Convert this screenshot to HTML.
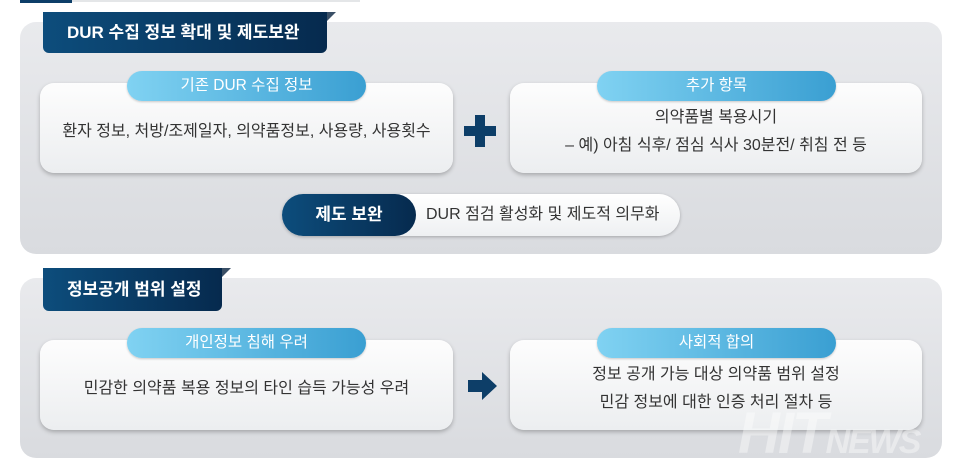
<!DOCTYPE html>
<html><head><meta charset="utf-8"><style>
body{margin:0;width:960px;height:476px;background:#fff;position:relative;overflow:hidden;font-family:"Liberation Sans","Noto Sans CJK KR",sans-serif}
.a{position:absolute}
.panel{background:linear-gradient(#e9eaed,#d9dbdf);border-radius:16px}
.tab{background:linear-gradient(90deg,#0d4d7c,#062a4e);color:#fff;font-weight:bold;font-size:17px;line-height:41px;padding-left:24px;border-radius:0 0 6px 6px;box-sizing:border-box}
.fold{width:0;height:0;border-left:9px solid #3a4f66;border-bottom:9px solid transparent}
.box{background:linear-gradient(#fdfdfd,#eceef0);border-radius:14px;box-shadow:0 2px 4px rgba(0,0,0,.25);color:#333;font-size:16px;text-align:center;display:flex;align-items:center;justify-content:center;flex-direction:column;line-height:28px}
.pill{background:linear-gradient(90deg,#80d2f2,#3a9fd2);border-radius:15px;color:#fff;font-size:15.5px;text-align:center;line-height:30px;box-shadow:0 1px 2px rgba(0,0,0,.2)}
</style></head><body>
<div class="a" style="left:20px;top:0;width:340px;height:2px;background:#e4e6e8"></div>
<div class="a" style="left:20px;top:0;width:52px;height:3px;background:#0d3e68"></div>

<div class="a panel" style="left:20px;top:22px;width:922px;height:232px"></div>
<div class="a tab" style="left:43px;top:12px;width:284px;height:41px">DUR 수집 정보 확대 및 제도보완</div>
<div class="a fold" style="left:327px;top:12px"></div>
<div class="a box" style="left:40px;top:83px;width:413px;height:90px;padding-top:8px;box-sizing:border-box">환자 정보, 처방/조제일자, 의약품정보, 사용량, 사용횟수</div>
<div class="a pill" style="left:127px;top:71px;width:239px;height:30px">기존 DUR 수집 정보</div>
<div class="a box" style="left:510px;top:83px;width:412px;height:90px;padding-top:8px;box-sizing:border-box"><div>의약품별 복용시기</div><div>– 예) 아침 식후/ 점심 식사 30분전/ 취침 전 등</div></div>
<div class="a pill" style="left:597px;top:71px;width:239px;height:30px">추가 항목</div>
<div class="a" style="left:464px;top:126px;width:32px;height:10px;background:#0d3e68"></div>
<div class="a" style="left:475px;top:115px;width:10px;height:32px;background:#0d3e68"></div>
<div class="a" style="left:282px;top:194px;width:398px;height:42px;background:linear-gradient(#fff,#eef0f2);border-radius:21px;box-shadow:0 1px 3px rgba(0,0,0,.25)"></div>
<div class="a" style="left:426px;top:194px;line-height:42px;font-size:16px;color:#333">DUR 점검 활성화 및 제도적 의무화</div>
<div class="a" style="left:282px;top:194px;width:134px;height:42px;background:linear-gradient(90deg,#0d4d7c,#062a4e);border-radius:21px;color:#fff;font-weight:bold;font-size:17px;text-align:center;line-height:42px">제도 보완</div>

<div class="a panel" style="left:20px;top:278px;width:922px;height:180px"></div>
<div class="a tab" style="left:43px;top:268px;width:179px;height:43px;line-height:43px">정보공개 범위 설정</div>
<div class="a fold" style="left:222px;top:268px"></div>
<div class="a box" style="left:40px;top:340px;width:413px;height:90px;padding-top:8px;box-sizing:border-box">민감한 의약품 복용 정보의 타인 습득 가능성 우려</div>
<div class="a pill" style="left:127px;top:328px;width:239px;height:30px">개인정보 침해 우려</div>
<div class="a box" style="left:510px;top:340px;width:412px;height:90px;padding-top:8px;box-sizing:border-box"><div>정보 공개 가능 대상 의약품 범위 설정</div><div>민감 정보에 대한 인증 처리 절차 등</div></div>
<div class="a pill" style="left:597px;top:328px;width:239px;height:30px">사회적 합의</div>
<svg class="a" style="left:468px;top:372px" width="30" height="30"><polygon points="0,8 14,8 14,0 29,14 14,28 14,20 0,20" fill="#0d3e68"/></svg>
<div class="a" style="left:738px;top:400px;font-size:58px;font-weight:bold;font-style:italic;color:rgba(255,255,255,.4);letter-spacing:-2px">HIT<span style="font-size:34px">NEWS</span></div>
</body></html>
